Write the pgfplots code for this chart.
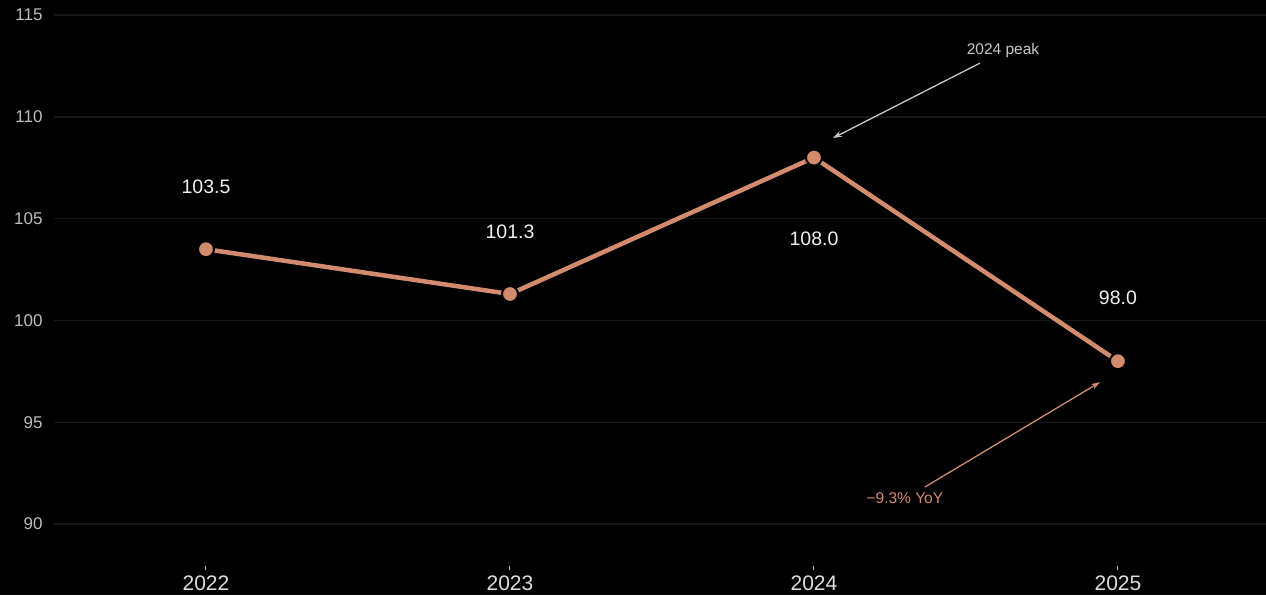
\documentclass[border=0pt]{standalone}
\usepackage{pgfplots}
\pgfplotsset{compat=1.18}
\usepackage{fontspec}
\setmainfont{Liberation Sans}
\usetikzlibrary{arrows.meta}
\definecolor{copper}{HTML}{D28B6C}
\definecolor{gridc}{HTML}{171717}
\definecolor{ticklab}{HTML}{BDBDBD}
\definecolor{xlab}{HTML}{DDDDDD}
\definecolor{vallab}{HTML}{F0F0F0}
\definecolor{annot}{HTML}{C8C8C8}
\begin{document}
\begin{tikzpicture}
\path[use as bounding box, fill=black] (0,0) rectangle (1266pt,595pt);
\begin{axis}[
  at={(54pt,29pt)}, anchor=south west,
  scale only axis, width=1212pt, height=566pt,
  xmin=-0.5, xmax=3.487, ymin=87.94, ymax=115.74,
  axis line style={draw=none},
  xtick={0,1,2,3}, xticklabels={2022,2023,2024,2025},
  ytick={90,95,100,105,110,115},
  /pgf/number format/assume math mode=true,
  yticklabel style={font=\fontsize{17}{20}\selectfont, text=ticklab, xshift=-8pt},
  xticklabel style={font=\fontsize{21}{24}\selectfont, text=xlab, yshift=-2pt},
  x tick style={draw=ticklab, line width=1pt},
  major tick length=4pt,
  xtick pos=bottom, xtick align=outside,
  y tick style={draw=none},
  ymajorgrids, grid style={gridc, line width=1.3pt},
  clip=false,
]
\addplot[copper, line width=4.5pt, mark=*, mark size=8pt,
  mark options={fill=copper, draw=black, line width=2pt}]
  coordinates {(0,103.5) (1,101.3) (2,108.0) (3,98.0)};
\node[text=vallab, font=\fontsize{19.5}{22}\selectfont] at (axis cs:0,103.5) [yshift=62pt] {103.5};
\node[text=vallab, font=\fontsize{19.5}{22}\selectfont] at (axis cs:1,101.3) [yshift=62pt] {101.3};
\node[text=vallab, font=\fontsize{19.5}{22}\selectfont] at (axis cs:2,108.0) [yshift=-81pt] {108.0};
\node[text=vallab, font=\fontsize{19.5}{22}\selectfont] at (axis cs:3,98.0) [yshift=63pt] {98.0};
\draw[annot, line width=1.3pt, -{Stealth[length=9pt,width=6pt]}] (axis cs:2.546,112.64) -- (axis cs:2.0625,108.96);
\node[text=annot, font=\fontsize{15.5}{18}\selectfont] at (axis cs:2.622,113.28) {2024 peak};
\draw[copper, line width=1.3pt, -{Stealth[length=9pt,width=6pt]}] (axis cs:2.365,91.82) -- (axis cs:2.941,96.97);
\node[text=copper, font=\fontsize{15.5}{18}\selectfont] at (axis cs:2.299,91.28) {−9.3\% YoY};
\end{axis}
\end{tikzpicture}
\end{document}
